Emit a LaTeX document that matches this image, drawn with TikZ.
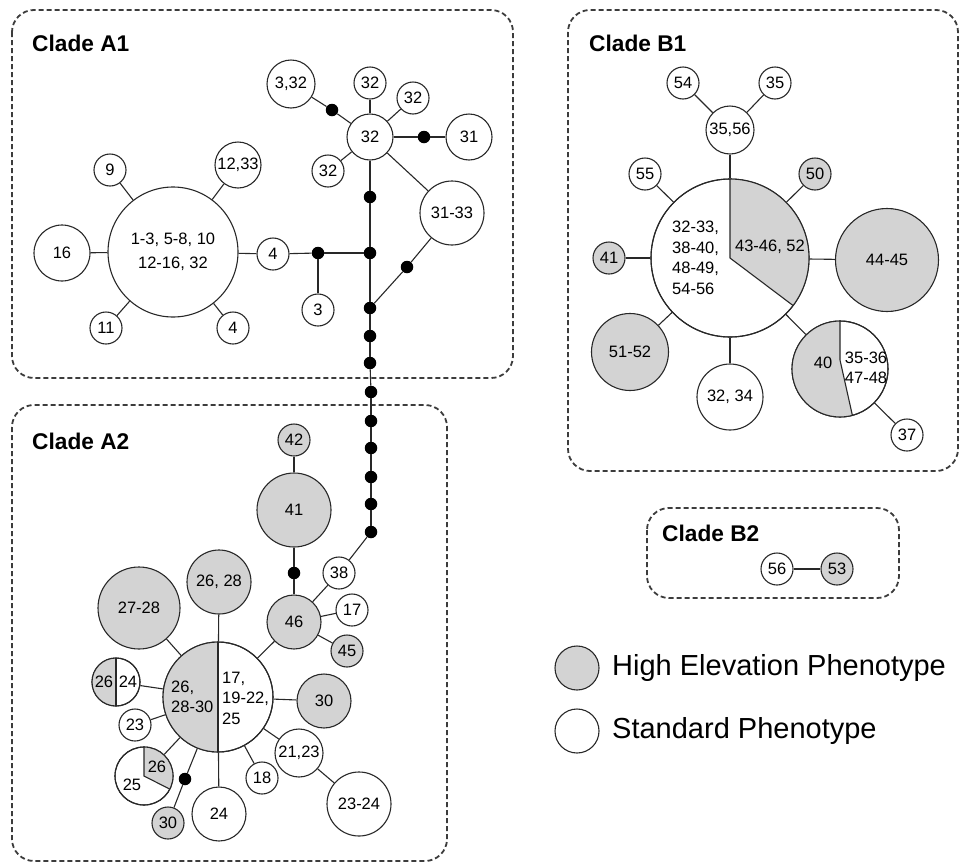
\documentclass[tikz,border=0pt]{standalone}
\usepackage{fontspec}
\setmainfont{Liberation Sans}
\definecolor{hp}{RGB}{211,211,211}
\definecolor{ln}{RGB}{40,40,40}
\definecolor{bx}{RGB}{60,60,60}
\tikzset{
 hap/.style={circle, draw=ln, line width=1.1pt, fill=white, inner sep=0pt, font=\fontsize{16.5}{18}\selectfont},
 hig/.style={hap, fill=hp},
 mdot/.style={circle, fill=black, inner sep=0pt, minimum size=12.5pt},
 lnk/.style={draw=ln, line width=1.1pt},
 clade/.style={draw=bx, line width=1.8pt, dash pattern=on 5pt off 3pt, rounded corners=22pt},
 cladelabel/.style={font=\fontsize{22.7}{26}\selectfont\bfseries, anchor=west, inner sep=0pt},
 txt/.style={inner sep=0pt, font=\fontsize{16.5}{20.5}\selectfont, align=left},
}
\begin{document}
\begin{tikzpicture}[x=1pt,y=-1pt]
\useasboundingbox (0,0) rectangle (961,865);
% clade boxes
\draw[clade] (12,10) rectangle (513,378);
\draw[clade] (12,405) rectangle (447,861);
\draw[clade] (568,10) rectangle (958,471);
\draw[clade] (647,508) rectangle (899,598);
\node[cladelabel] (lA1) at (32,43) {Clade A1};
\node[cladelabel] (lA2) at (32,441) {Clade A2};
\node[cladelabel] (lB1) at (589,43) {Clade B1};
\node[cladelabel] (lB2) at (662,533) {Clade B2};

% ---------- Clade A1 ----------
\node[hap, minimum size=130pt, align=center, font=\fontsize{16.5}{24}\selectfont] (big1) at (173,252) {1-3, 5-8, 10\\12-16, 32};
\node[hap, minimum size=56pt] (n16) at (62,253) {16};
\node[hap, minimum size=32pt] (n9) at (110,170) {9};
\node[hap, minimum size=46pt] (n1233) at (238,165) {12,33};
\node[hap, minimum size=32pt] (n11) at (106,328) {11};
\node[hap, minimum size=32pt] (n4a) at (233,328) {4};
\node[hap, minimum size=32pt] (n4b) at (273,254) {4};
\node[mdot] (dA) at (318,253) {};
\node[hap, minimum size=32pt] (n3) at (318,310) {3};
\node[hap, minimum size=46pt] (n32c) at (370,137) {32};
\node[hap, minimum size=48pt] (n332) at (291,84) {3,32};
\node[mdot] (dC) at (332,110) {};
\node[hap, minimum size=32pt] (n32t) at (370,83) {32};
\node[hap, minimum size=32pt] (n32r) at (413,98) {32};
\node[hap, minimum size=32pt] (n32l) at (328,171) {32};
\node[mdot] (dD) at (424,137) {};
\node[hap, minimum size=46pt] (n31) at (469,137) {31};
\node[hap, minimum size=64pt] (n3133) at (452,213) {31-33};
\node[mdot] (dE) at (407,267) {};
\node[mdot] (dB) at (370,197) {};
\node[mdot] (j1) at (370,253) {};
\node[mdot] (j2) at (370,308) {};
\node[mdot] (c1) at (370,336) {};
\node[mdot] (c2) at (370,363) {};
\node[mdot] (c3) at (371,392) {};
\node[mdot] (c4) at (371,421) {};
\node[mdot] (c5) at (371,448) {};
\node[mdot] (c6) at (371,477) {};
\node[mdot] (c7) at (371,504) {};
\node[mdot] (c8) at (371,532) {};

\draw[lnk] (big1) -- (n16);
\draw[lnk] (big1) -- (n9);
\draw[lnk] (big1) -- (n1233);
\draw[lnk] (big1) -- (n11);
\draw[lnk] (big1) -- (n4a);
\draw[lnk] (big1) -- (n4b);
\draw[lnk] (n4b) -- (dA);
\draw[lnk] (dA) -- (j1);
\draw[lnk] (dA) -- (n3);
\draw[lnk] (n332) -- (dC);
\draw[lnk] (dC) -- (n32c);
\draw[lnk] (n32c) -- (n32t);
\draw[lnk] (n32c) -- (n32r);
\draw[lnk] (n32c) -- (n32l);
\draw[lnk] (n32c) -- (dD);
\draw[lnk] (dD) -- (n31);
\draw[lnk] (n32c) -- (n3133);
\draw[lnk] (n3133) -- (dE);
\draw[lnk] (dE) -- (j2);
\draw[lnk] (n32c) -- (dB);
\draw[lnk] (dB) -- (j1);
\draw[lnk] (j1) -- (j2);
\draw[lnk] (j2) -- (c1);
\draw[lnk] (c1) -- (c2);
\draw[lnk] (c2) -- (c3);
\draw[lnk] (c3) -- (c4);
\draw[lnk] (c4) -- (c5);
\draw[lnk] (c5) -- (c6);
\draw[lnk] (c6) -- (c7);
\draw[lnk] (c7) -- (c8);

% ---------- Clade A2 ----------
\node[hap, minimum size=32pt] (n38) at (339,573) {38};
\node[hig, minimum size=54pt] (n46) at (294,622) {46};
\node[hap, minimum size=32pt] (n17b) at (352,610) {17};
\node[hig, minimum size=32pt] (n45) at (347,651) {45};
\node[mdot] (dF) at (294,573) {};
\node[hig, minimum size=74pt] (n41) at (294,510) {41};
\node[hig, minimum size=32pt] (n42) at (294,440) {42};
\node[hap, minimum size=110pt] (bigA2) at (218,697) {};
\node[hig, minimum size=64pt] (n2628) at (219,582) {26, 28};
\node[hig, minimum size=82pt] (n2728) at (139,608) {27-28};
\node[hap, minimum size=48pt] (s2624) at (116,682) {};
\node[hap, minimum size=32pt] (n23) at (135,725) {23};
\node[hap, minimum size=58pt] (s2526) at (144,776) {};
\node[mdot] (dG) at (185,779) {};
\node[hig, minimum size=32pt] (n30a) at (168,823) {30};
\node[hap, minimum size=54pt] (n24) at (219,814) {24};
\node[hap, minimum size=32pt] (n18) at (262,778) {18};
\node[hap, minimum size=48pt] (n2123) at (299,753) {21,23};
\node[hap, minimum size=64pt] (n2324) at (359,804) {23-24};
\node[hig, minimum size=54pt] (n30b) at (324,701) {30};

% split fills A2
\fill[hp] (bigA2.center) -- ++(90:55pt) arc[start angle=90, end angle=270, radius=55pt] -- cycle;
\draw[lnk] (bigA2.center) circle[radius=55pt];
\draw[lnk] (218,642) -- (218,752);
\fill[hp] (s2624.center) -- ++(90:24pt) arc[start angle=90, end angle=270, radius=24pt] -- cycle;
\draw[lnk] (s2624.center) circle[radius=24pt];
\draw[lnk] (116,658) -- (116,706);
\fill[hp] (s2526.center) -- ++(-27:29pt) arc[start angle=-27, end angle=90, radius=29pt] -- cycle;
\draw[lnk] (s2526.center) circle[radius=29pt];
\draw[lnk] (144,747) -- (s2526.center) -- ++(-27:29pt);
\node[txt, anchor=west] (tA2l) at (171,697) {26,\\28-30};
\node[txt, anchor=west] (tA2r) at (222,698) {17,\\19-22,\\25};
\node[txt] (t26a) at (104,682) {26};
\node[txt] (t24a) at (128,682) {24};
\node[txt] (t26b) at (157,767) {26};
\node[txt] (t25b) at (132,785) {25};

\draw[lnk] (c8) -- (n38);
\draw[lnk] (n38) -- (n46);
\draw[lnk] (n46) -- (dF);
\draw[lnk] (dF) -- (n41);
\draw[lnk] (n41) -- (n42);
\draw[lnk] (n46) -- (n17b);
\draw[lnk] (n46) -- (n45);
\draw[lnk] (n46) -- (bigA2);
\draw[lnk] (bigA2) -- (n2628);
\draw[lnk] (bigA2) -- (n2728);
\draw[lnk] (bigA2) -- (s2624);
\draw[lnk] (bigA2) -- (n23);
\draw[lnk] (bigA2) -- (s2526);
\draw[lnk] (bigA2) -- (dG);
\draw[lnk] (dG) -- (n30a);
\draw[lnk] (bigA2) -- (n24);
\draw[lnk] (bigA2) -- (n18);
\draw[lnk] (bigA2) -- (n2123);
\draw[lnk] (n2123) -- (n2324);
\draw[lnk] (bigA2) -- (n30b);

% ---------- Clade B1 ----------
\node[hap, minimum size=158pt] (bigB1) at (730,258) {};
\node[hap, minimum size=48pt] (n3556) at (730,130) {35,56};
\node[hap, minimum size=32pt] (n54) at (683,83) {54};
\node[hap, minimum size=32pt] (n35) at (775,83) {35};
\node[hap, minimum size=32pt] (n55) at (645,174) {55};
\node[hig, minimum size=32pt] (n50) at (815,174) {50};
\node[hig, minimum size=32pt] (n41b) at (609,258) {41};
\node[hig, minimum size=103pt] (n4445) at (887,260) {44-45};
\node[hig, minimum size=77pt] (n5152) at (630,352) {51-52};
\node[hap, minimum size=66pt] (n3234) at (730,397) {32, 34};
\node[hap, minimum size=96pt] (s40) at (840,369) {};
\node[hap, minimum size=32pt] (n37) at (907,435) {37};

\fill[hp] (bigB1.center) -- ++(-37:79pt) arc[start angle=-37, end angle=90, radius=79pt] -- cycle;
\draw[lnk] (bigB1.center) circle[radius=79pt];
\draw[lnk] (730,179) -- (bigB1.center) -- ++(-37:79pt);
\fill[hp] (840,321) arc[start angle=90, end angle=285, radius=48pt] -- (840,360) -- cycle;
\draw[lnk] (s40.center) circle[radius=48pt];
\draw[lnk] (840,321) -- (840,360) -- (852.4,415.4);
\node[txt, anchor=west] (tB1l) at (672,258) {32-33,\\38-40,\\48-49,\\54-56};
\node[txt] (tB1r) at (770,247) {43-46, 52};
\node[txt] (t40) at (823,363) {40};
\node[txt] (t3536) at (866,368) {35-36\\47-48};

\draw[lnk] (bigB1) -- (n3556);
\draw[lnk] (n3556) -- (n54);
\draw[lnk] (n3556) -- (n35);
\draw[lnk] (bigB1) -- (n55);
\draw[lnk] (bigB1) -- (n50);
\draw[lnk] (bigB1) -- (n41b);
\draw[lnk] (bigB1) -- (n4445);
\draw[lnk] (bigB1) -- (n5152);
\draw[lnk] (bigB1) -- (n3234);
\draw[lnk] (bigB1) -- (s40);
\draw[lnk] (s40) -- (n37);

% ---------- Clade B2 ----------
\node[hap, minimum size=32pt] (n56) at (777,569) {56};
\node[hig, minimum size=32pt] (n53) at (837,569) {53};
\draw[lnk] (n56) -- (n53);

% ---------- Legend ----------
\node[hig, minimum size=44pt] (lg1) at (577,668) {};
\node[hap, minimum size=44pt] (lg2) at (577,731) {};
\node[anchor=west, inner sep=0pt, font=\fontsize{29}{31}\selectfont] (lt1) at (612,668) {High Elevation Phenotype};
\node[anchor=west, inner sep=0pt, font=\fontsize{29}{31}\selectfont] (lt2) at (612,731) {Standard Phenotype};
\end{tikzpicture}
\end{document}
